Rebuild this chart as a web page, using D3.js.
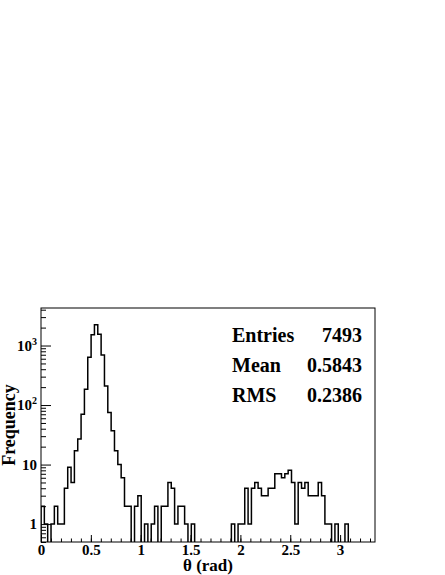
<!DOCTYPE html>
<html>
<head>
<meta charset="utf-8">
<script src="https://cdn.jsdelivr.net/npm/d3@7"></script>
<style>
  html, body { margin: 0; padding: 0; background: #fff; }
  svg { display: block; }
  text { font-family: "Liberation Serif", "Times New Roman", serif; font-weight: bold; fill: #000; }
</style>
</head>
<body>
<svg id="chart" width="445" height="575"></svg>
<script>
// ---- data ----
const xMin = 0;
const xMax = 3.35;
const nBins = 100;
const counts = [
  2, 1, 0, 1, 2, 1, 1, 4, 9, 5,
  17, 27, 70, 184, 636, 1513, 2230, 1550, 695, 209,
  75, 37, 17, 10, 6, 2, 2, 0, 2, 3,
  0, 1, 0, 1, 2, 0, 2, 2, 5, 4,
  1, 2, 2, 1, 0, 1, 0, 0, 0, 0,
  0, 0, 0, 0, 0, 0, 0, 1, 0, 1,
  1, 4, 1, 4, 5, 4, 3, 3, 4, 4,
  7, 7, 6, 7, 8, 5, 1, 5, 4, 5,
  3, 3, 3, 5, 3, 1, 1, 0, 1, 0,
  0, 1, 0, 0, 0, 0, 0, 0, 0, 0
];
const xTickValues = [0, 0.5, 1, 1.5, 2, 2.5, 3];
const xTickLabels = ["0", "0.5", "1", "1.5", "2", "2.5", "3"];
const yTickValues = [1, 10, 100, 1000];
const yTickBase = ["1", "10", "10", "10"];
const yTickExp = ["", "", "2", "3"];
const yDomain = [0.5, 4270];
const statNames = ["Entries", "Mean", "RMS"];
const statValues = ["7493", "0.5843", "0.2386"];
const xTitle = "\u03b8 (rad)";
const yTitle = "Frequency";

// ---- layout ----
const W = 445, H = 575;
const frame = { left: 41, right: 375, top: 308, bottom: 542 };

const svg = d3.select("#chart");
svg.append("rect").attr("width", W).attr("height", H).attr("fill", "#fff");

const x = d3.scaleLinear().domain([xMin, xMax]).range([frame.left, frame.right]);
const y = d3.scaleLog().domain(yDomain).range([frame.bottom, frame.top]);

// clip
svg.append("defs").append("clipPath").attr("id", "clip")
  .append("rect")
  .attr("x", frame.left).attr("y", frame.top)
  .attr("width", frame.right - frame.left).attr("height", frame.bottom - frame.top);

// histogram outline
const binW = (xMax - xMin) / nBins;
const pts = [[xMin, null]];
counts.forEach((c, i) => {
  const lo = xMin + i * binW, hi = lo + binW;
  pts.push([lo, c]);
  pts.push([hi, c]);
});
pts.push([xMax, null]);
const yPix = c => (c === null || c <= 0) ? frame.bottom + 6 : y(c);
const line = d3.line().x(d => x(d[0])).y(d => yPix(d[1]));
svg.append("path")
  .attr("d", line(pts))
  .attr("fill", "none")
  .attr("stroke", "#000")
  .attr("stroke-width", 1.5)
  .attr("stroke-linejoin", "miter")
  .attr("clip-path", "url(#clip)");

// x axis: minor ticks
const xMinor = d3.range(0, 34).map(k => k / 10).filter(v => v <= xMax);
svg.append("g")
  .attr("transform", `translate(0,${frame.bottom})`)
  .call(d3.axisBottom(x).tickValues(xMinor).tickSize(-3.5).tickFormat(""))
  .call(g => g.select(".domain").remove())
  .call(g => g.selectAll("line").attr("stroke", "#000"));

// x axis: major ticks + labels
const gx = svg.append("g")
  .attr("transform", `translate(0,${frame.bottom})`)
  .call(d3.axisBottom(x).tickValues(xTickValues).tickSize(-7).tickPadding(6)
    .tickFormat((d, i) => xTickLabels[i]));
gx.select(".domain").remove();
gx.selectAll("line").attr("stroke", "#000");
gx.selectAll("text")
  .attr("font-family", "Liberation Serif")
  .attr("font-weight", "bold")
  .attr("font-size", 15)
  .attr("fill", "#000")
  .attr("y", 0).attr("dy", null)
  .attr("transform", "translate(0,12.5)");

// y axis: minor ticks
const yMinor = [];
[0.1, 1, 10, 100, 1000].forEach(dec => {
  for (let m = 2; m <= 9; m++) {
    const v = dec * m;
    if (v >= yDomain[0] && v <= yDomain[1]) yMinor.push(v);
  }
});
svg.append("g")
  .attr("transform", `translate(${frame.left},0)`)
  .call(d3.axisLeft(y).tickValues(yMinor).tickSize(-5).tickFormat(""))
  .call(g => g.select(".domain").remove())
  .call(g => g.selectAll("line").attr("stroke", "#000"));

// y axis: major ticks
const gy = svg.append("g")
  .attr("transform", `translate(${frame.left},0)`)
  .call(d3.axisLeft(y).tickValues(yTickValues).tickSize(-10).tickFormat(""));
gy.select(".domain").remove();
gy.selectAll("line").attr("stroke", "#000");

// y labels with superscripts
yTickValues.forEach((v, i) => {
  const t = svg.append("text")
    .attr("x", frame.left - 4)
    .attr("y", y(v) + 5)
    .attr("text-anchor", "end")
    .attr("font-size", 15);
  t.append("tspan").text(yTickBase[i]);
  if (yTickExp[i]) {
    t.append("tspan").attr("font-size", 10).attr("dy", -6).text(yTickExp[i]);
  }
});

// frame
svg.append("rect")
  .attr("x", frame.left).attr("y", frame.top)
  .attr("width", frame.right - frame.left).attr("height", frame.bottom - frame.top)
  .attr("fill", "none").attr("stroke", "#000").attr("stroke-width", 1);

// titles
svg.append("text")
  .attr("x", (frame.left + frame.right) / 2)
  .attr("y", 571)
  .attr("text-anchor", "middle")
  .attr("font-size", 17)
  .text(xTitle);

svg.append("text")
  .attr("transform", `translate(15,${(frame.top + frame.bottom) / 2}) rotate(-90)`)
  .attr("text-anchor", "middle")
  .attr("font-size", 18)
  .text(yTitle);

// stats
const statBase = [341.5, 371.5, 402];
statNames.forEach((n, i) => {
  svg.append("text").attr("x", 232).attr("y", statBase[i])
    .attr("font-size", 20).text(n);
  svg.append("text").attr("x", 362).attr("y", statBase[i])
    .attr("text-anchor", "end").attr("font-size", 20).text(statValues[i]);
});
</script>
</body>
</html>
